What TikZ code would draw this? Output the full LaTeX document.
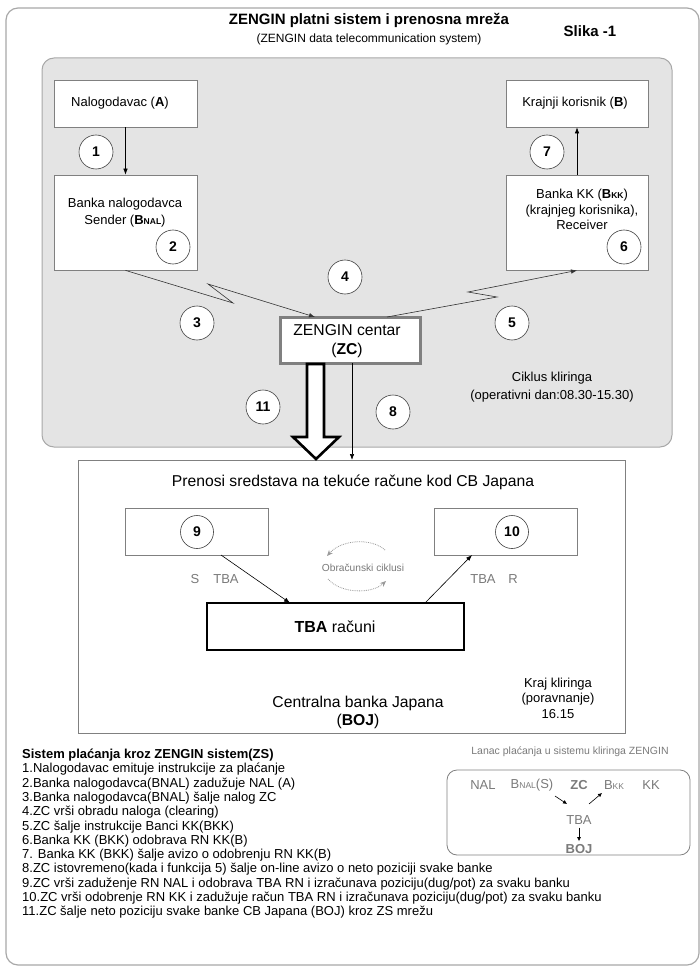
\documentclass[tikz,border=0pt]{standalone}
\usepackage{fontspec}
\setmainfont{Liberation Sans}
\usetikzlibrary{arrows.meta}
\newcommand{\fsz}[2]{\fontsize{#1}{#2}\selectfont}
\definecolor{panelgray}{HTML}{E4E4E4}
\definecolor{framegray}{HTML}{A8A8A8}
\definecolor{boxgray}{HTML}{808080}
\definecolor{txtgray}{HTML}{7A7A7A}
\tikzset{
  box/.style={draw=boxgray, fill=white, line width=0.8pt, inner sep=0pt},
  num/.style={circle, draw=black!75, fill=white, minimum size=34pt, inner sep=0pt, line width=0.6pt, font=\fsz{14}{16}\bfseries},
  arr/.style={-{Latex[length=6pt,width=4.5pt]}, line width=0.6pt},
  zig/.style={-{Latex[length=6pt,width=4.5pt]}, line width=0.6pt, draw=black!80},
  small/.style={font=\fsz{13}{16.5}},
  big/.style={font=\fsz{15.7}{18.5}},
  chain/.style={text=txtgray, font=\fsz{13}{15}, inner sep=0pt},
  listline/.style={anchor=base west, inner sep=0pt, font=\fsz{13}{14.3}},
}
\begin{document}
\begin{tikzpicture}[x=1pt,y=-1pt]
\useasboundingbox (0,0) rectangle (700,968);
% outer frame
\draw[framegray, line width=1.2pt, rounded corners=12pt] (6,8) rectangle (699,965);
\node[font=\fsz{15}{18}\bfseries] (title) at (369,20) {ZENGIN platni sistem i prenosna mreža};
\node[font=\fsz{12}{14}] (subtitle) at (369,39) {(ZENGIN data telecommunication system)};
\node[font=\fsz{15}{18}\bfseries] (slika) at (590,31) {Slika -1};
% gray panel
\draw[framegray, fill=panelgray, line width=1pt, rounded corners=12pt] (42,58) rectangle (672,447);
% boxes upper
\node[box, minimum width=143pt, minimum height=47pt] (nal) at (125.5,103.5) {};
\node[small] (naltxt) at (120,103.5) {Nalogodavac (\textbf{A})};
\node[box, minimum width=143pt, minimum height=95pt] (bnal) at (125.5,222.5) {};
\node[small, align=center] (bnaltxt) at (125,212.5) {Banka nalogodavca\\Sender (\textbf{B}{\bfseries\fsz{8.5}{10}NAL})};
\node[box, minimum width=142pt, minimum height=47pt] (kk) at (577,103.5) {};
\node[small] (kktxt) at (575,103.5) {Krajnji korisnik (\textbf{B})};
\node[box, minimum width=142pt, minimum height=95pt] (bkk) at (577,222.5) {};
\node[small, align=center, font=\fsz{13}{15.5}] (bkktxt) at (582,209.5) {Banka KK (\textbf{B}{\bfseries\fsz{8.5}{10}KK})\\(krajnjeg korisnika),\\Receiver};
% ZC
\node[draw=boxgray, fill=white, line width=3pt, minimum width=140pt, minimum height=46pt, inner sep=0pt] (zc) at (350,340) {};
\node[big, align=center] (zctxt) at (347,341) {ZENGIN centar\\(\textbf{ZC})};
\node[small, align=center, font=\fsz{13}{18}] (ciklus) at (552,387) {Ciklus kliringa\\(operativni dan:08.30-15.30)};
% connectors upper
\draw[arr] (nal.south) -- (bnal.north);
\draw[arr] (bkk.north) -- (kk.south);
\coordinate (zcin) at (315,317);
\coordinate (zcout) at (387,317);
\draw[zig] (bnal.south) -- (233,303) -- (208,284) -- (zcin);
\draw[zig] (zcout) -- (497,297) -- (468,292) -- (bkk.south);
% circles
\node[num] (c1) at (96,152) {1};
\node[num] (c2) at (173,247) {2};
\node[num] (c3) at (197,323) {3};
\node[num] (c4) at (345,277) {4};
\node[num] (c5) at (512,323) {5};
\node[num] (c6) at (624,247) {6};
\node[num] (c7) at (547,152) {7};
\node[num] (c11) at (263,407) {11};
\node[num] (c8) at (393,412) {8};
% lower box
\node[draw=boxgray, fill=white, line width=0.8pt, minimum width=547pt, minimum height=273pt, inner sep=0pt] (boj) at (351.5,596.5) {};
\node[big] (prenosi) at (353,482) {Prenosi sredstava na tekuće račune kod CB Japana};
% arrow 8 and big arrow 11
\coordinate (a8s) at (352,363);
\coordinate (a8e) at (352,460);
\draw[arr] (a8s) -- (a8e);
\draw[black, fill=white, line width=2.6pt, line join=miter] (307,364) -- (307,437) -- (293,437) -- (316,459) -- (339,437) -- (324,437) -- (324,364) -- cycle;
% boxes 9,10
\node[box, minimum width=143pt, minimum height=47pt] (b9) at (196.5,531.5) {};
\node[box, minimum width=143pt, minimum height=47pt] (b10) at (505.5,531.5) {};
\node[num, minimum size=33pt] (c9) at (197,532) {9};
\node[num, minimum size=33pt] (c10) at (512,532) {10};
\node[draw=black, fill=white, line width=2.6pt, minimum width=257pt, minimum height=47pt, inner sep=0pt] (tba) at (335.5,626.5) {};
\node[big, font=\fsz{16}{18}] (tbatxt) at (335,627) {\textbf{TBA} računi};
\coordinate (t9) at (290,603);
\coordinate (t10) at (425,603);
\coordinate (s9) at (221,555);
\coordinate (s10) at (472,555);
\draw[arr] (s9) -- (t9);
\draw[arr] (t10) -- (s10);
\node[text=txtgray, font=\fsz{13}{15}] (lS) at (195,579) {S};
\node[text=txtgray, font=\fsz{13}{15}] (lTBA1) at (226,579) {TBA};
\node[text=txtgray, font=\fsz{13}{15}] (lTBA2) at (483,579) {TBA};
\node[text=txtgray, font=\fsz{13}{15}] (lR) at (513,579) {R};
\node[text=txtgray, font=\fsz{10.2}{12}] (obr) at (363,568) {Obračunski ciklusi};
\draw[black!40, densely dotted, line width=0.8pt, -{Stealth[length=6pt,width=5pt]}] (385,550) .. controls (372,538) and (342,539) .. (327,556);
\draw[black!40, densely dotted, line width=0.8pt, -{Stealth[length=6pt,width=5pt]}] (328,579) .. controls (341,594) and (372,594) .. (386,581);
\node[align=center, font=\fsz{15.7}{18}] (cbj) at (358,712) {Centralna banka Japana\\(\textbf{BOJ})};
\node[align=center, font=\fsz{13}{15.5}] (kraj) at (558,698) {Kraj kliringa\\(poravnanje)\\16.15};
% chain box
\node[text=txtgray, font=\fsz{10.5}{12}] (lanac) at (570,752) {Lanac plaćanja u sistemu kliringa ZENGIN};
\draw[boxgray, line width=0.8pt, rounded corners=10pt] (447,770) rectangle (690,855);
\node[chain] (cNAL) at (483,785) {NAL};
\node[chain] (cBNAL) at (532,785) {B{\fsz{8.5}{10}NAL}(S)};
\node[chain, font=\fsz{13}{15}\bfseries] (cZC) at (579,785) {ZC};
\node[chain] (cBKK) at (614,785) {B{\fsz{8.5}{10}KK}};
\node[chain] (cKK) at (651,785) {KK};
\node[chain] (cTBA) at (579,820) {TBA};
\node[chain, font=\fsz{13}{15}\bfseries] (cBOJ) at (579,849) {BOJ};
\draw[-{Latex[length=4pt,width=4pt]}, line width=0.6pt] (555,796) -- (567,804);
\draw[-{Latex[length=4pt,width=4pt]}, line width=0.6pt] (589,804) -- (602,793);
\draw[-{Latex[length=4pt,width=4pt]}, line width=0.6pt, shorten <=3pt, shorten >=3pt] (cTBA.south) -- (cBOJ.north);
% list
\node[listline, font=\fsz{13}{14.3}\bfseries] (l0) at (22,758.5) {Sistem plaćanja kroz ZENGIN sistem(ZS)};
\node[listline] (l1) at (22,772.8) {1.Nalogodavac emituje instrukcije za plaćanje};
\node[listline] (l2) at (22,787.1) {2.Banka nalogodavca(BNAL) zadužuje NAL (A)};
\node[listline] (l3) at (22,801.4) {3.Banka nalogodavca(BNAL) šalje nalog ZC};
\node[listline] (l4) at (22,815.7) {4.ZC vrši obradu naloga (clearing)};
\node[listline] (l5) at (22,830.0) {5.ZC šalje instrukcije Banci KK(BKK)};
\node[listline] (l6) at (22,844.3) {6.Banka KK (BKK) odobrava RN KK(B)};
\node[listline] (l7) at (22,858.6) {7. Banka KK (BKK) šalje avizo o odobrenju RN KK(B)};
\node[listline] (l8) at (22,872.9) {8.ZC istovremeno(kada i funkcija 5) šalje on-line avizo o neto poziciji svake banke};
\node[listline] (l9) at (22,887.2) {9.ZC vrši zaduženje RN NAL i odobrava TBA RN i izračunava poziciju(dug/pot) za svaku banku};
\node[listline] (l10) at (22,901.5) {10.ZC vrši odobrenje RN KK i zadužuje račun TBA RN i izračunava poziciju(dug/pot) za svaku banku};
\node[listline] (l11) at (22,915.8) {11.ZC šalje neto poziciju svake banke CB Japana (BOJ) kroz ZS mrežu};
\end{tikzpicture}
\end{document}
